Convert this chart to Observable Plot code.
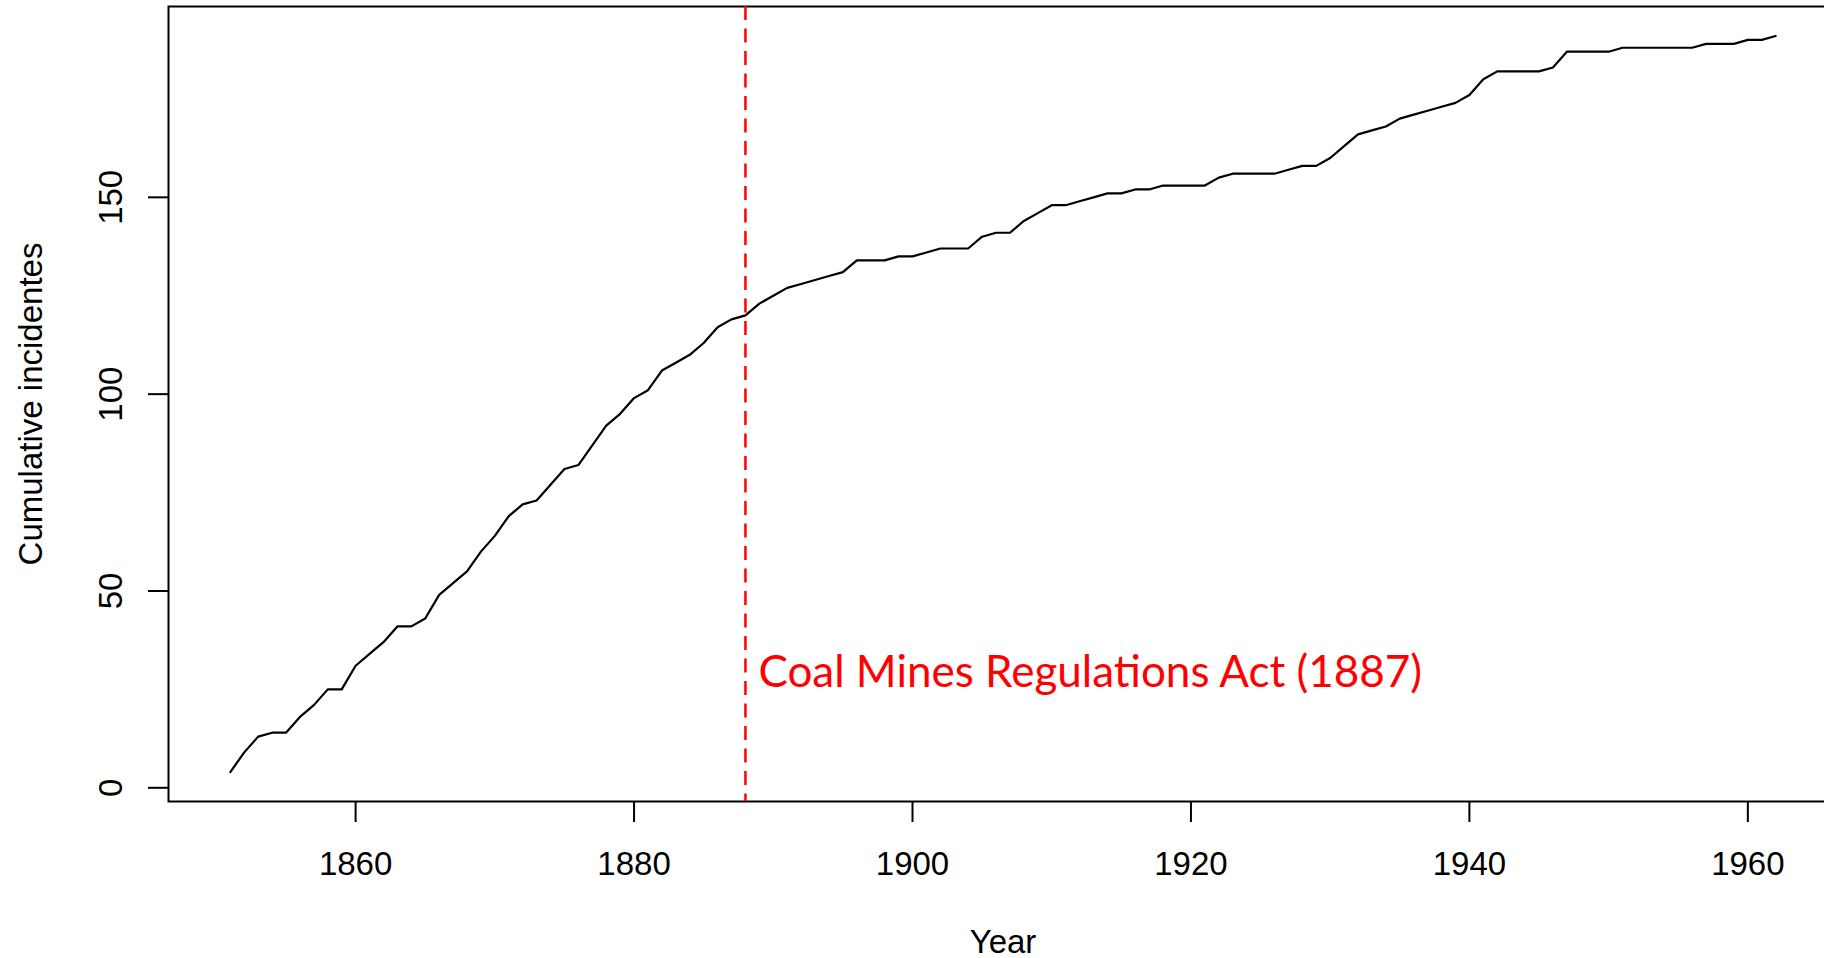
<!DOCTYPE html>
<html>
<head>
<meta charset="utf-8">
<script src="https://cdn.jsdelivr.net/npm/d3@7"></script>
<script src="https://cdn.jsdelivr.net/npm/@observablehq/plot@0.6"></script>
<style>
  html, body { margin: 0; padding: 0; background: #ffffff; overflow: hidden; }
  #chart svg { display: block; }
</style>
</head>
<body>
<div id="chart"></div>
<script>
// Year of each record
const years = [
  1851, 1852, 1853, 1854, 1855, 1856, 1857, 1858, 1859, 1860,
  1861, 1862, 1863, 1864, 1865, 1866, 1867, 1868, 1869, 1870,
  1871, 1872, 1873, 1874, 1875, 1876, 1877, 1878, 1879, 1880,
  1881, 1882, 1883, 1884, 1885, 1886, 1887, 1888, 1889, 1890,
  1891, 1892, 1893, 1894, 1895, 1896, 1897, 1898, 1899, 1900,
  1901, 1902, 1903, 1904, 1905, 1906, 1907, 1908, 1909, 1910,
  1911, 1912, 1913, 1914, 1915, 1916, 1917, 1918, 1919, 1920,
  1921, 1922, 1923, 1924, 1925, 1926, 1927, 1928, 1929, 1930,
  1931, 1932, 1933, 1934, 1935, 1936, 1937, 1938, 1939, 1940,
  1941, 1942, 1943, 1944, 1945, 1946, 1947, 1948, 1949, 1950,
  1951, 1952, 1953, 1954, 1955, 1956, 1957, 1958, 1959, 1960,
  1961, 1962
];

// Running total of mining disasters up to and including each year
const cumulativeIncidents = [
    4,   9,  13,  14,  14,  18,  21,  25,  25,  31,
   34,  37,  41,  41,  43,  49,  52,  55,  60,  64,
   69,  72,  73,  77,  81,  82,  87,  92,  95,  99,
  101, 106, 108, 110, 113, 117, 119, 120, 123, 125,
  127, 128, 129, 130, 131, 134, 134, 134, 135, 135,
  136, 137, 137, 137, 140, 141, 141, 144, 146, 148,
  148, 149, 150, 151, 151, 152, 152, 153, 153, 153,
  153, 155, 156, 156, 156, 156, 157, 158, 158, 160,
  163, 166, 167, 168, 170, 171, 172, 173, 174, 176,
  180, 182, 182, 182, 182, 183, 187, 187, 187, 187,
  188, 188, 188, 188, 188, 188, 189, 189, 189, 190,
  190, 191
];

const xTicks = [1860, 1880, 1900, 1920, 1940, 1960];
const yTicks = [0, 50, 100, 150];

const actLineYear = 1888;
const actLabel = "Coal Mines Regulations Act (1887)";
const xTitle = "Year";
const yTitle = "Cumulative incidentes";

const rows = years.map((year, i) => ({year, total: cumulativeIncidents[i]}));

// Pad the data range by 4% on each side, like base R graphics
const padded = ([lo, hi]) => [lo - (hi - lo) * 0.04, hi + (hi - lo) * 0.04];

const baseFont = '"Liberation Sans", Arial, Helvetica, sans-serif';

const chart = Plot.plot({
  width: 1824,
  height: 958,
  marginLeft: 168,
  marginRight: -13,
  marginTop: 6,
  marginBottom: 157,
  style: {fontFamily: baseFont, fontSize: "33px", color: "#000", background: "#fff"},
  x: {domain: padded(d3.extent(years)), label: null},
  y: {domain: padded(d3.extent(cumulativeIncidents)), label: null},
  marks: [
    Plot.frame({stroke: "#000", strokeWidth: 2}),
    Plot.axisX({ticks: xTicks, tickFormat: "d", tickSize: 21, tickPadding: 29, strokeWidth: 2, label: null}),
    Plot.axisY({ticks: yTicks, tickFormat: "d", tickSize: 20, tickPadding: 27, tickRotate: -90, strokeWidth: 2, label: null}),
    Plot.ruleX([actLineYear], {stroke: "#ff0000", strokeWidth: 2.5, strokeDasharray: "14 8.5"}),
    Plot.line(rows, {x: "year", y: "total", stroke: "#000", strokeWidth: 2.2}),
    Plot.text([{year: actLineYear, label: actLabel}], {
      x: "year", y: 25.5, text: "label", dx: 13,
      textAnchor: "start", lineAnchor: "bottom",
      fill: "#ff0000", fontFamily: "Lato, 'Open Sans', sans-serif", fontSize: 44
    }),
    Plot.text([xTitle], {frameAnchor: "bottom", dy: 151, lineAnchor: "bottom", textAnchor: "middle"}),
    Plot.text([yTitle], {frameAnchor: "left", dx: -126.3, rotate: -90, lineAnchor: "bottom", textAnchor: "middle"})
  ]
});

document.getElementById("chart").append(chart);
</script>
</body>
</html>
